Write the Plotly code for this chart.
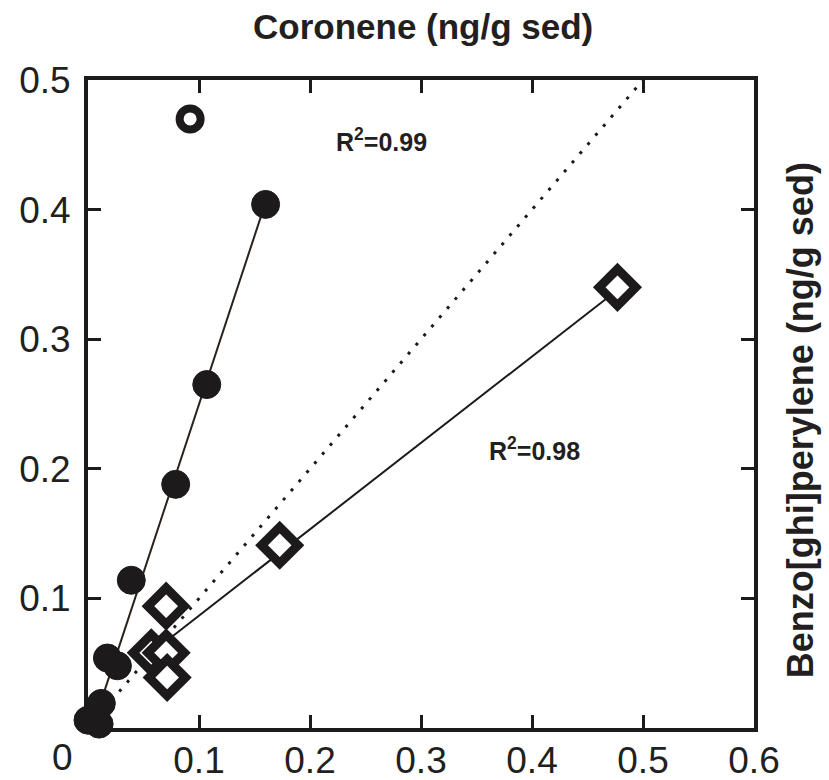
import plotly.graph_objects as go

# ---- data ----
# filled circles (Coronene vs Benzo[ghi]perylene)
circ_x = [0.160, 0.107, 0.079, 0.039, 0.0175, 0.0265, 0.012, 0.000, 0.010]
circ_y = [0.404, 0.265, 0.188, 0.114, 0.054, 0.048, 0.019, 0.006, 0.003]
# open circle (outlier)
open_x = [0.092]
open_y = [0.470]
# diamonds
dia_x = [0.477, 0.1727, 0.0704, 0.057, 0.0704, 0.0713]
dia_y = [0.340, 0.141, 0.094, 0.058, 0.058, 0.039]
# regression lines (end points)
fit1_x = [0.005, 0.159]
fit1_y = [0.003, 0.403]
fit2_x = [0.060, 0.477]
fit2_y = [0.060, 0.338]
# 1:1 line
one_x = [0.0, 0.5]
one_y = [0.0, 0.5]

x_ticks = [0.1, 0.2, 0.3, 0.4, 0.5, 0.6]
y_ticks = [0.1, 0.2, 0.3, 0.4, 0.5]
x_title = "Coronene (ng/g sed)"
y_title = "Benzo[ghi]perylene (ng/g sed)"
r2_labels = ["R<sup>2</sup>=0.99", "R<sup>2</sup>=0.98"]
r2_pos_x = [0.264, 0.402]
r2_pos_y = [0.454, 0.215]

ink = "#1c1a1a"
txt = "#231f20"
font_family = "Liberation Sans, Arial, sans-serif"

fig = go.Figure()
fig.add_trace(go.Scatter(x=one_x, y=one_y, mode="lines",
                         line=dict(color=ink, width=3, dash="3px,9px"),
                         hoverinfo="skip"))
fig.add_trace(go.Scatter(x=fit1_x, y=fit1_y, mode="lines",
                         line=dict(color="#2a211b", width=2)))
fig.add_trace(go.Scatter(x=fit2_x, y=fit2_y, mode="lines",
                         line=dict(color=ink, width=2)))
fig.add_trace(go.Scatter(x=dia_x, y=dia_y, mode="markers", cliponaxis=False,
                         marker=dict(symbol="diamond", size=28, color="white",
                                     line=dict(color=ink, width=9))))
fig.add_trace(go.Scatter(x=circ_x, y=circ_y, mode="markers", cliponaxis=False,
                         marker=dict(symbol="circle", size=28, color=ink,
                                     line=dict(color=ink, width=1))))
fig.add_trace(go.Scatter(x=open_x, y=open_y, mode="markers", cliponaxis=False,
                         marker=dict(symbol="circle", size=21, color="white",
                                     line=dict(color=ink, width=8))))

axis_common = dict(showline=True, linecolor=ink, linewidth=4, mirror="ticks",
                   ticks="inside", ticklen=13, tickwidth=3, tickcolor=ink,
                   showgrid=False, zeroline=False, automargin=False,
                   tickfont=dict(family=font_family, size=37, color=txt))

fig.update_layout(
    width=829, height=780,
    margin=dict(l=88, r=75, t=80, b=52),
    paper_bgcolor="white", plot_bgcolor="white",
    showlegend=False,
    xaxis=dict(range=[0, 0.6], tickvals=x_ticks,
               ticktext=[f"{v:g}" for v in x_ticks],
               ticklabelstandoff=-3, **axis_common),
    yaxis=dict(range=[0, 0.5], tickvals=y_ticks,
               ticktext=[f"{v:g}" for v in y_ticks],
               ticklabelstandoff=6, **axis_common),
)

annotations = [
    dict(text=x_title, xref="paper", yref="paper", x=0.503, y=1.082,
         xanchor="center", yanchor="middle", showarrow=False,
         font=dict(family=font_family, size=35, color=txt, weight="bold")),
    dict(text=y_title, xref="paper", yref="paper", x=1.069, y=0.475,
         xanchor="center", yanchor="middle", showarrow=False, textangle=-90,
         font=dict(family=font_family, size=36, color=txt, weight="bold")),
    dict(text="0", xref="paper", yref="paper", x=-0.039, y=-0.045,
         xanchor="center", yanchor="middle", showarrow=False,
         font=dict(family=font_family, size=37, color=txt)),
]
for lab, ax, ay in zip(r2_labels, r2_pos_x, r2_pos_y):
    annotations.append(dict(text=lab, x=ax, y=ay, xref="x", yref="y",
                            showarrow=False, xanchor="center", yanchor="middle",
                            font=dict(family=font_family, size=25, color=txt,
                                      weight="bold")))
fig.update_layout(annotations=annotations)

fig.write_html("out.html")
